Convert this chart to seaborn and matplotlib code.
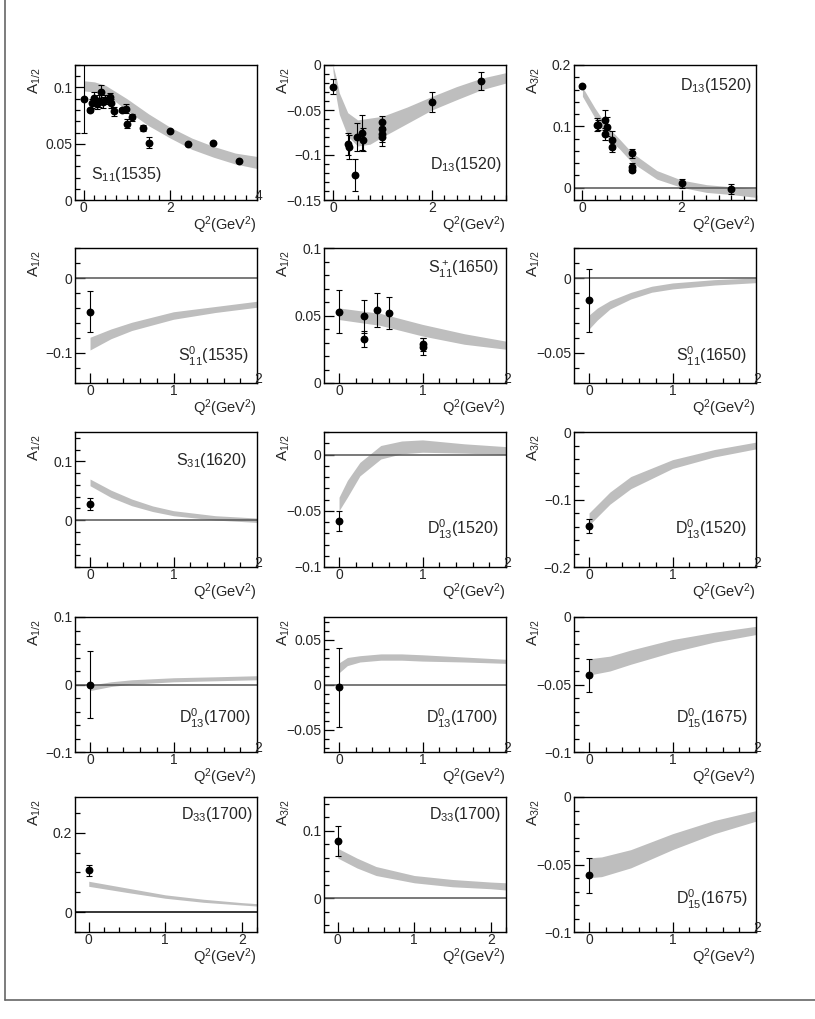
import matplotlib
matplotlib.use("Agg")
import matplotlib.pyplot as plt
import seaborn as sns
from matplotlib.ticker import MultipleLocator, FuncFormatter
from matplotlib.lines import Line2D

# ---------------- DATA ----------------
# S11(1535)  A1/2
p1_x = [0.0, 0.15, 0.2, 0.25, 0.3, 0.35, 0.4, 0.45, 0.5, 0.6, 0.62, 0.7, 0.88, 0.98, 1.0, 1.12, 1.38, 1.5, 2.0, 2.4, 2.98, 3.59]
p1_y = [0.090, 0.080, 0.086, 0.091, 0.085, 0.088, 0.096, 0.087, 0.089, 0.092, 0.086, 0.079, 0.080, 0.081, 0.068, 0.0735, 0.064, 0.051, 0.0616, 0.050, 0.0506, 0.035]
p1_e = [0.030, 0.002, 0.004, 0.005, 0.004, 0.005, 0.006, 0.005, 0.004, 0.003, 0.004, 0.004, 0.002, 0.004, 0.004, 0.003, 0.003, 0.005, 0.001, 0.001, 0.001, 0.001]
p1_bx = [0.0, 0.25, 0.5, 0.75, 1.0, 1.5, 2.0, 2.5, 3.0, 3.5, 4.0]
p1_lo = [0.097, 0.096, 0.0935, 0.087, 0.0795, 0.066, 0.055, 0.045, 0.038, 0.032, 0.028]
p1_hi = [0.106, 0.105, 0.102, 0.096, 0.090, 0.0765, 0.0646, 0.055, 0.0476, 0.0417, 0.0387]

# D13(1520)  A1/2
p2_x = [0.0, 0.3, 0.32, 0.45, 0.49, 0.58, 0.6, 1.0, 1.0, 1.0, 1.0, 2.0, 3.0]
p2_y = [-0.024, -0.0875, -0.091, -0.122, -0.080, -0.075, -0.083, -0.063, -0.071, -0.077, -0.080, -0.041, -0.018]
p2_e = [0.008, 0.012, 0.013, 0.018, 0.016, 0.019, 0.013, 0.006, 0.008, 0.008, 0.010, 0.011, 0.010]
p2_bx = [0.0, 0.07, 0.13, 0.3, 0.5, 0.75, 1.0, 1.5, 2.0, 2.5, 3.0, 3.5]
p2_lo = [-0.006, -0.037, -0.055, -0.079, -0.090, -0.088, -0.080, -0.065, -0.050, -0.0386, -0.0276, -0.020]
p2_hi = [0.0, -0.015, -0.031, -0.053, -0.061, -0.059, -0.057, -0.0467, -0.035, -0.024, -0.0147, -0.0085]

# D13(1520)  A3/2
p3_x = [0.0, 0.3, 0.32, 0.45, 0.45, 0.5, 0.6, 0.6, 1.0, 1.0, 1.0, 2.0, 3.0]
p3_y = [0.165, 0.103, 0.102, 0.110, 0.088, 0.0995, 0.078, 0.067, 0.056, 0.033, 0.029, 0.007, -0.002]
p3_e = [0.003, 0.010, 0.008, 0.016, 0.010, 0.016, 0.015, 0.009, 0.007, 0.008, 0.003, 0.008, 0.008]
p3_bx = [0.0, 0.25, 0.5, 0.75, 1.0, 1.5, 2.0, 2.5, 3.0, 3.5]
p3_lo = [0.149, 0.114, 0.082, 0.063, 0.041, 0.014, 0.0005, -0.0076, -0.011, -0.0157]
p3_hi = [0.164, 0.130, 0.100, 0.079, 0.057, 0.028, 0.0124, 0.005, 0.0016, -0.001]

# S0_11(1535)
p4_x, p4_y, p4_e = [0.0], [-0.045], [0.0275]
p4_bx = [0.0, 0.25, 0.5, 1.0, 1.5, 2.0]
p4_lo = [-0.096, -0.081, -0.070, -0.055, -0.046, -0.039]
p4_hi = [-0.079, -0.068, -0.059, -0.045, -0.038, -0.031]

# S+_11(1650)
p5_x = [0.0, 0.3, 0.3, 0.45, 0.6, 1.0, 1.0]
p5_y = [0.0527, 0.0493, 0.0324, 0.054, 0.052, 0.0287, 0.027]
p5_e = [0.016, 0.012, 0.006, 0.0125, 0.012, 0.005, 0.006]
p5_bx = [0.0, 0.5, 1.0, 1.5, 2.0]
p5_lo = [0.047, 0.0426, 0.0348, 0.0287, 0.025]
p5_hi = [0.0556, 0.0515, 0.0434, 0.0365, 0.031]

# S0_11(1650)
p6_x, p6_y, p6_e = [0.0], [-0.0147], [0.021]
p6_bx = [0.0, 0.1, 0.25, 0.5, 0.75, 1.0, 1.5, 2.0]
p6_lo = [-0.034, -0.028, -0.0207, -0.014, -0.0095, -0.0073, -0.0047, -0.0031]
p6_hi = [-0.0247, -0.020, -0.0151, -0.0096, -0.0055, -0.0033, -0.0011, 0.0]

# S31(1620)
p7_x, p7_y, p7_e = [0.0], [0.0273], [0.010]
p7_bx = [0.0, 0.25, 0.5, 0.75, 1.0, 1.5, 2.0]
p7_lo = [0.0585, 0.0386, 0.0244, 0.0145, 0.0074, 0.0, -0.004]
p7_hi = [0.0699, 0.051, 0.0358, 0.024, 0.0159, 0.0074, 0.0034]

# D0_13(1520)  A1/2
p8_x, p8_y, p8_e = [0.0], [-0.059], [0.009]
p8_bx = [0.0, 0.1, 0.25, 0.5, 0.75, 1.0, 1.5, 2.0]
p8_lo = [-0.050, -0.038, -0.019, -0.004, 0.0006, 0.002, 0.0012, 0.0]
p8_hi = [-0.038, -0.023, -0.007, 0.008, 0.012, 0.013, 0.0095, 0.007]

# D0_13(1520)  A3/2
p9_x, p9_y, p9_e = [0.0], [-0.1396], [0.0107]
p9_bx = [0.0, 0.25, 0.5, 1.0, 1.5, 2.0]
p9_lo = [-0.138, -0.107, -0.084, -0.054, -0.037, -0.025]
p9_hi = [-0.120, -0.089, -0.066, -0.041, -0.026, -0.015]

# D0_13(1700)  A1/2 (left)
p10_x, p10_y, p10_e = [0.0], [0.0], [0.050]
p10_bx = [0.0, 0.25, 0.5, 1.0, 1.5, 2.0]
p10_lo = [-0.009, -0.003, 0.0005, 0.004, 0.0055, 0.007]
p10_hi = [-0.001, 0.004, 0.007, 0.010, 0.0114, 0.013]

# D0_13(1700)  A1/2 (middle)
p11_x, p11_y, p11_e = [0.0], [-0.003], [0.044]
p11_bx = [0.0, 0.1, 0.25, 0.5, 0.75, 1.0, 1.5, 2.0]
p11_lo = [0.013, 0.021, 0.025, 0.027, 0.027, 0.026, 0.025, 0.0235]
p11_hi = [0.024, 0.030, 0.032, 0.034, 0.034, 0.033, 0.0305, 0.028]

# D0_15(1675)  A1/2
p12_x, p12_y, p12_e = [0.0], [-0.0431], [0.0122]
p12_bx = [0.0, 0.25, 0.5, 1.0, 1.5, 2.0]
p12_lo = [-0.043, -0.040, -0.035, -0.026, -0.0186, -0.013]
p12_hi = [-0.031, -0.029, -0.0245, -0.0167, -0.0113, -0.0069]

# D33(1700)  A1/2
p13_x, p13_y, p13_e = [0.0], [0.105], [0.0137]
p13_bx = [0.0, 0.5, 1.0, 1.5, 2.0, 2.2]
p13_lo = [0.065, 0.0496, 0.035, 0.0248, 0.018, 0.0154]
p13_hi = [0.0778, 0.0607, 0.0436, 0.0325, 0.024, 0.0214]

# D33(1700)  A3/2
p14_x, p14_y, p14_e = [0.0], [0.0849], [0.0224]
p14_bx = [0.0, 0.25, 0.5, 1.0, 1.5, 2.0, 2.2]
p14_lo = [0.0595, 0.0449, 0.0337, 0.0229, 0.017, 0.0141, 0.0122]
p14_hi = [0.074, 0.0595, 0.047, 0.0337, 0.0278, 0.024, 0.0229]

# D0_15(1675)  A3/2
p15_x, p15_y, p15_e = [0.0], [-0.0581], [0.013]
p15_bx = [0.0, 0.15, 0.5, 1.0, 1.5, 2.0]
p15_lo = [-0.0598, -0.059, -0.0525, -0.039, -0.0272, -0.0179]
p15_hi = [-0.0451, -0.0444, -0.039, -0.0272, -0.0174, -0.0101]

points = [(p1_x, p1_y, p1_e), (p2_x, p2_y, p2_e), (p3_x, p3_y, p3_e),
          (p4_x, p4_y, p4_e), (p5_x, p5_y, p5_e), (p6_x, p6_y, p6_e),
          (p7_x, p7_y, p7_e), (p8_x, p8_y, p8_e), (p9_x, p9_y, p9_e),
          (p10_x, p10_y, p10_e), (p11_x, p11_y, p11_e), (p12_x, p12_y, p12_e),
          (p13_x, p13_y, p13_e), (p14_x, p14_y, p14_e), (p15_x, p15_y, p15_e)]
bands = [(p1_bx, p1_lo, p1_hi), (p2_bx, p2_lo, p2_hi), (p3_bx, p3_lo, p3_hi),
         (p4_bx, p4_lo, p4_hi), (p5_bx, p5_lo, p5_hi), (p6_bx, p6_lo, p6_hi),
         (p7_bx, p7_lo, p7_hi), (p8_bx, p8_lo, p8_hi), (p9_bx, p9_lo, p9_hi),
         (p10_bx, p10_lo, p10_hi), (p11_bx, p11_lo, p11_hi), (p12_bx, p12_lo, p12_hi),
         (p13_bx, p13_lo, p13_hi), (p14_bx, p14_lo, p14_hi), (p15_bx, p15_lo, p15_hi)]

titles = ["S$_{11}$(1535)", "D$_{13}$(1520)", "D$_{13}$(1520)",
          "S$^0_{11}$(1535)", "S$^+_{11}$(1650)", "S$^0_{11}$(1650)",
          "S$_{31}$(1620)", "D$^0_{13}$(1520)", "D$^0_{13}$(1520)",
          "D$^0_{13}$(1700)", "D$^0_{13}$(1700)", "D$^0_{15}$(1675)",
          "D$_{33}$(1700)", "D$_{33}$(1700)", "D$^0_{15}$(1675)"]
ylabels = ["A$_{1/2}$", "A$_{1/2}$", "A$_{3/2}$",
           "A$_{1/2}$", "A$_{1/2}$", "A$_{1/2}$",
           "A$_{1/2}$", "A$_{1/2}$", "A$_{3/2}$",
           "A$_{1/2}$", "A$_{1/2}$", "A$_{1/2}$",
           "A$_{1/2}$", "A$_{3/2}$", "A$_{3/2}$"]

# ---------------- LAYOUT / AXES SETTINGS ----------------
# xlim, ylim, x major, x minor, y major, y minor, zero line, title pos
settings = [
    ((-0.2, 4.0), (0.0, 0.12), 2, 0.25, 0.05, 0.01, False, (0.09, 0.19, "left")),
    ((-0.18, 3.5), (-0.15, 0.0), 2, 0.25, 0.05, 0.01, False, (0.98, 0.265, "right")),
    ((-0.17, 3.5), (-0.02, 0.2), 2, 0.25, 0.1, 0.02, True, (0.975, 0.845, "right")),
    ((-0.18, 2.0), (-0.14, 0.04), 1, 0.2, 0.1, 0.02, True, (0.955, 0.2, "right")),
    ((-0.18, 2.0), (0.0, 0.1), 1, 0.2, 0.05, 0.01, False, (0.96, 0.84, "right")),
    ((-0.18, 2.0), (-0.07, 0.02), 1, 0.2, 0.05, 0.01, True, (0.95, 0.2, "right")),
    ((-0.18, 2.0), (-0.08, 0.15), 1, 0.2, 0.1, 0.02, True, (0.945, 0.79, "right")),
    ((-0.18, 2.0), (-0.1, 0.02), 1, 0.2, 0.05, 0.01, True, (0.96, 0.28, "right")),
    ((-0.18, 2.0), (-0.2, 0.0), 1, 0.2, 0.1, 0.02, False, (0.95, 0.28, "right")),
    ((-0.18, 2.0), (-0.1, 0.1), 1, 0.2, 0.1, 0.02, True, (0.965, 0.25, "right")),
    ((-0.18, 2.0), (-0.075, 0.075), 1, 0.2, 0.05, 0.01, True, (0.955, 0.25, "right")),
    ((-0.18, 2.0), (-0.1, 0.0), 1, 0.2, 0.05, 0.01, False, (0.957, 0.25, "right")),
    ((-0.18, 2.2), (-0.05, 0.29), 1, 0.2, 0.2, 0.05, True, (0.978, 0.87, "right")),
    ((-0.18, 2.2), (-0.05, 0.15), 1, 0.2, 0.1, 0.02, True, (0.97, 0.87, "right")),
    ((-0.18, 2.0), (-0.1, 0.0), 1, 0.2, 0.05, 0.01, False, (0.957, 0.24, "right")),
]

sns.set_style("ticks")
plt.rcParams["font.family"] = ["Liberation Sans", "DejaVu Sans"]
plt.rcParams["mathtext.default"] = "regular"
plt.rcParams["axes.unicode_minus"] = True

FW, FH = 815, 1019
fig = plt.figure(figsize=(FW / 100, FH / 100), dpi=100)
col_left = [75, 324, 574]
row_top = [65, 248, 432, 617, 797]
AW, AH = 182, 135

band_color = "#bebebe"


def make_fmt(vmax):
    def f(v, pos):
        if abs(v - vmax) < 1e-9:
            return ""
        v = round(v, 6)
        if v == 0:
            return "0"
        return f"{v:g}".replace("-", "\u2212")
    return f


for i in range(15):
    r, c = divmod(i, 3)
    ax = fig.add_axes([col_left[c] / FW, 1 - (row_top[r] + AH) / FH, AW / FW, AH / FH])
    xl, yl, xmaj, xmin, ymaj, ymin, zline, (tx, ty, tha) = settings[i]
    bx, blo, bhi = bands[i]
    px, py, pe = points[i]

    ax.fill_between(bx, blo, bhi, color=band_color, lw=0, zorder=1)
    if zline:
        zc = "black" if i == 12 else "#555555"
        ax.axhline(0, color=zc, lw=1.1, zorder=2)
    ax.errorbar(px, py, yerr=pe, fmt="none", ecolor="black", elinewidth=0.8,
                capsize=2.5, capthick=0.8, zorder=3)
    sns.scatterplot(x=px, y=py, ax=ax, color="black", s=32, linewidth=0,
                    zorder=4, legend=False)

    ax.set_xlim(*xl)
    ax.set_ylim(*yl)
    ax.xaxis.set_major_locator(MultipleLocator(xmaj))
    ax.xaxis.set_minor_locator(MultipleLocator(xmin))
    ax.yaxis.set_major_locator(MultipleLocator(ymaj))
    ax.yaxis.set_minor_locator(MultipleLocator(ymin))
    ax.xaxis.set_major_formatter(FuncFormatter(make_fmt(xl[1])))
    ax.yaxis.set_major_formatter(FuncFormatter(make_fmt(1e9)))
    ax.tick_params(which="both", direction="in", top=False, right=False,
                   labelsize=10, width=0.9, color="black")
    ax.tick_params(which="major", length=7)
    ax.tick_params(which="minor", length=3.5)
    ax.tick_params(axis="x", pad=1)
    ax.tick_params(axis="y", pad=2)
    for s in ax.spines.values():
        s.set_linewidth(1.0)
        s.set_color("black")

    # right-end x label sits on the corner (ROOT style)
    if abs(round(xl[1] / xmaj) * xmaj - xl[1]) < 1e-9:
        ax.annotate(f"{xl[1]:g}", xy=(1.0, 0.0), xycoords="axes fraction",
                    xytext=(1, 3), textcoords="offset points",
                    ha="center", va="center", fontsize=10)

    ax.text(-0.22, 0.98, ylabels[i], transform=ax.transAxes, rotation=90,
            ha="center", va="top", fontsize=11)
    ax.text(1.0, -0.185, "Q$^2$(GeV$^2$)", transform=ax.transAxes,
            ha="right", va="center", fontsize=10.5)
    ax.text(tx, ty, titles[i], transform=ax.transAxes, ha=tha, va="center",
            fontsize=11.5)
    ax.set_xlabel("")
    ax.set_ylabel("")

# frame lines of the page
fig.add_artist(Line2D([5 / FW, 5 / FW], [1 - 1000 / FH, 1.0], color="#666666", lw=1.2))
fig.add_artist(Line2D([5 / FW, 1.0], [1 - 1000 / FH, 1 - 1000 / FH], color="#666666", lw=1.2))

fig.savefig("out.png", dpi=100, facecolor="white")
